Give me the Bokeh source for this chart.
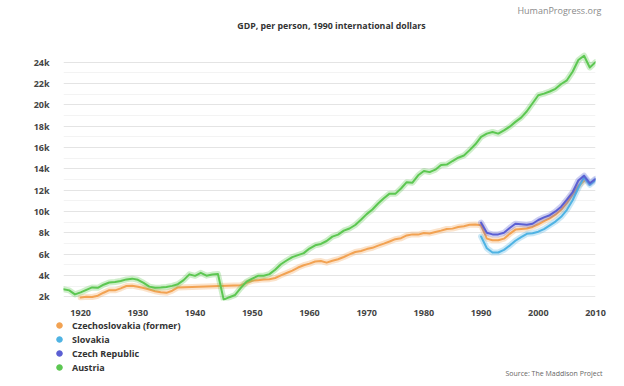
from bokeh.plotting import figure
from bokeh.layouts import column
from bokeh.models import (Range1d, Legend, LegendItem, Label, FixedTicker,
                          CustomJSTickFormatter)
from bokeh.embed import file_html
from bokeh.resources import INLINE

# ---------------- data ----------------
austria_years = list(range(1917, 2011))
austria_gdp = [2700, 2600, 2220, 2410, 2650, 2880, 2840, 3130, 3340, 3380,
               3480, 3630, 3700, 3590, 3300, 2950, 2850, 2870, 2920, 3020,
               3180, 3560, 4100, 3960, 4240, 3980, 4080, 4130, 1730, 1960,
               2170, 2830, 3420, 3710, 3960, 3970, 4120, 4540, 5050, 5400,
               5720, 5910, 6090, 6520, 6830, 6950, 7230, 7640, 7830, 8200,
               8400, 8730, 9220, 9750, 10180, 10750, 11240, 11670, 11650, 12150,
               12750, 12700, 13390, 13800, 13690, 13920, 14360, 14400, 14730, 15040,
               15250, 15750, 16300, 17000, 17300, 17450, 17300, 17600, 17950, 18400,
               18800, 19400, 20150, 20900, 21050, 21250, 21500, 21950, 22300, 23100,
               24200, 24600, 23500, 24000]

czs_years = (list(range(1920, 1938)) + list(range(1948, 2009)))
czs_gdp = [1930, 2000, 1980, 2100, 2380, 2620, 2600, 2790, 3010, 3040,
           2930, 2830, 2680, 2520, 2420, 2370, 2570, 2880,
           3090, 3300, 3500, 3560, 3630, 3650, 3760, 4010, 4230, 4450,
           4740, 4960, 5110, 5310, 5350, 5200, 5380, 5520, 5730, 5970,
           6200, 6290, 6470, 6590, 6800, 6980, 7180, 7400, 7490, 7750,
           7850, 7830, 7980, 7940, 8070, 8200, 8360, 8390, 8540, 8620,
           8750, 8770, 8700, 7450, 7300, 7300, 7450, 7900, 8300, 8350,
           8400, 8550, 8800, 9100, 9350, 9700, 10150, 10800, 11600, 12400,
           12850]

modern_years = list(range(1990, 2011))
slovakia_gdp = [7650, 6550, 6150, 6150, 6400, 6800, 7250, 7600, 7900, 7950,
                8100, 8350, 8700, 9050, 9500, 10150, 11050, 12200, 13200, 12500,
                12950]
czech_gdp = [8950, 8000, 7850, 7850, 8000, 8450, 8850, 8800, 8750, 8850,
             9200, 9450, 9650, 10000, 10450, 11100, 11800, 12900, 13350, 12650,
             13050]

series_names = ["Czechoslovakia (former)", "Slovakia", "Czech Republic", "Austria"]
series_colors = ["#f2a252", "#4fb3e3", "#5b5fd3", "#5cc751"]
y_ticks = [2000, 4000, 6000, 8000, 10000, 12000, 14000, 16000, 18000,
           20000, 22000, 24000]
x_ticks = [1920, 1930, 1940, 1950, 1960, 1970, 1980, 1990, 2000, 2010]

FONT = "Open Sans"
W = 624


def blank(height):
    f = figure(width=W, height=height, output_backend="svg",
               toolbar_location=None, x_range=Range1d(0, 1),
               y_range=Range1d(0, 1), x_axis_location=None,
               y_axis_location=None, min_border=0)
    f.grid.visible = False
    f.outline_line_color = None
    f.background_fill_color = "white"
    f.border_fill_color = "white"
    return f


header = blank(51)
footer = blank(68)

# keep header/footer frames at the full width if the layout allows it
OFF = 0
for f in (header, footer):
    if "frame_align" in f.properties():
        f.frame_align = False
    else:
        OFF = 63

# ---------------- header ----------------
header.add_layout(Label(x=331 - OFF, y=26, x_units="screen", y_units="screen",
                        text="GDP, per person, 1990 international dollars",
                        text_font=FONT, text_font_style="bold",
                        text_font_size="8.8px", text_color="#333333",
                        text_align="center", text_baseline="middle"))
header.add_layout(Label(x=601 - OFF, y=41, x_units="screen", y_units="screen",
                        text="HumanProgress.org", text_font=FONT,
                        text_font_size="9px", text_color="#8a8a8a",
                        text_align="right", text_baseline="middle"))

# ---------------- main chart ----------------
p = figure(width=W, height=267, output_backend="svg", toolbar_location=None,
           x_range=Range1d(1917, 2010), y_range=Range1d(1650, 25000),
           min_border_left=63, min_border_right=29, min_border_top=0,
           min_border_bottom=16)
p.outline_line_color = None
p.background_fill_color = "white"
p.border_fill_color = "white"

for ax in (p.xaxis[0], p.yaxis[0]):
    ax.axis_line_color = None
    ax.major_tick_line_color = None
    ax.minor_tick_line_color = None
    ax.major_label_text_font = FONT
    ax.major_label_text_font_style = "bold"
    ax.major_label_text_font_size = "9px"
    ax.major_label_text_color = "#444444"
p.xaxis[0].ticker = FixedTicker(ticks=x_ticks)
p.xaxis[0].major_label_standoff = 3
p.yaxis[0].ticker = FixedTicker(ticks=y_ticks,
                                minor_ticks=[v + 1000 for v in y_ticks[:-1]])
p.yaxis[0].formatter = CustomJSTickFormatter(code="return (tick/1000) + 'k';")
p.yaxis[0].major_label_standoff = 8

p.xgrid.grid_line_color = None
p.ygrid.grid_line_color = "#e4e4e4"
p.ygrid.grid_line_width = 1
p.ygrid.minor_grid_line_color = "#f3f3f3"

data = [(czs_years, czs_gdp), (modern_years, slovakia_gdp),
        (modern_years, czech_gdp), (austria_years, austria_gdp)]
for (xs, ys), c in zip(data, series_colors):
    p.line(xs, ys, line_color=c, line_width=6, line_alpha=0.3,
           line_join="round", line_cap="round")
    p.line(xs, ys, line_color=c, line_width=2, line_join="round",
           line_cap="round")

# ---------------- footer: legend + source ----------------
items = []
for name, c in zip(series_names, series_colors):
    r = footer.scatter([-10], [-10], marker="circle", size=8, fill_color=c,
                       line_color=c)
    items.append(LegendItem(label=name, renderers=[r]))
legend = Legend(items=items, location=(52 - OFF, 12), orientation="vertical",
                glyph_width=14, glyph_height=14, label_height=14,
                label_standoff=6, spacing=0, padding=0, margin=0,
                border_line_color=None, background_fill_alpha=0,
                label_text_font=FONT, label_text_font_style="bold",
                label_text_font_size="9px", label_text_color="#333333")
footer.add_layout(legend, "center")
footer.add_layout(Label(x=602 - OFF, y=13, x_units="screen", y_units="screen",
                        text="Source: The Maddison Project", text_font=FONT,
                        text_font_size="7px", text_color="#666666",
                        text_align="right", text_baseline="middle"))

layout = column(header, p, footer, spacing=0)
open("out.html", "w").write(file_html(layout, INLINE))
